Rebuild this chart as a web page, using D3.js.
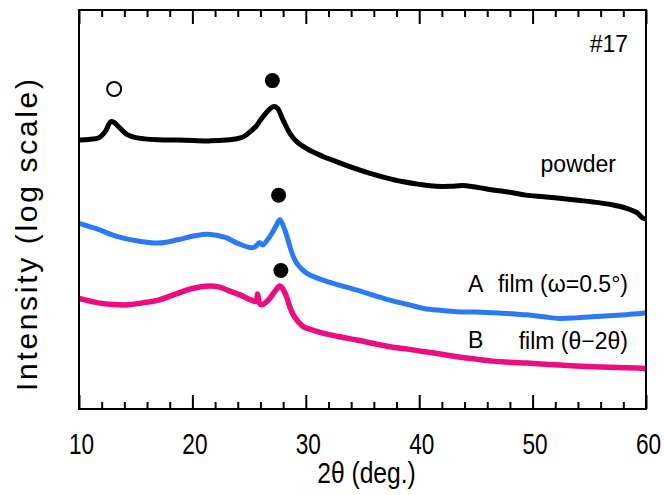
<!DOCTYPE html>
<html>
<head>
<meta charset="utf-8">
<script src="https://cdn.jsdelivr.net/npm/d3@7"></script>
<style>
body { margin: 0; background: #fff; }
</style>
</head>
<body>
<div id="chart"></div>
<script>
// 2theta (deg.) and log intensity (arbitrary, offset)
var powderAngle = [10.0, 11.0, 11.7, 12.3, 12.8, 13.1, 13.4, 13.9, 14.3, 15.0, 15.8, 17.0, 18.7, 20.0, 21.6, 23.0, 24.0, 24.6, 25.1, 25.6, 26.0, 26.5, 26.9, 27.2, 27.5, 28.0, 28.6, 29.2, 30.3, 31.5, 32.7, 34.0, 35.6, 37.0, 38.5, 40.0, 41.5, 42.8, 43.8, 44.8, 46.5, 48.0, 49.4, 51.0, 52.4, 54.0, 55.3, 57.0, 58.3, 59.2, 59.7, 60.0];
var powderLogI = [67.4, 67.6, 67.9, 69.5, 72.0, 71.8, 71.0, 69.6, 68.7, 68.0, 67.7, 67.5, 67.4, 67.3, 67.2, 67.4, 67.8, 68.4, 69.5, 70.8, 72.4, 74.2, 75.4, 75.8, 75.4, 72.4, 69.1, 67.0, 64.9, 63.3, 62.0, 60.6, 59.1, 58.0, 57.0, 56.3, 55.8, 55.8, 56.0, 55.7, 54.9, 54.3, 53.6, 53.2, 52.8, 52.3, 51.9, 51.2, 50.3, 49.2, 47.9, 47.6];

var filmAAngle = [10.0, 11.7, 13.4, 15.2, 17.0, 18.7, 20.2, 21.4, 22.9, 24.0, 25.2, 25.6, 25.9, 26.2, 26.6, 27.0, 27.4, 27.7, 28.0, 28.3, 28.6, 28.9, 29.2, 29.6, 30.1, 31.5, 33.0, 34.5, 36.0, 37.4, 39.0, 40.4, 42.0, 43.3, 45.0, 46.5, 48.0, 49.5, 51.0, 52.4, 54.0, 55.3, 57.5, 59.7, 60.0];
var filmALogI = [46.5, 45.0, 43.2, 42.1, 41.6, 42.4, 43.4, 43.8, 43.0, 41.5, 40.4, 40.8, 41.7, 41.1, 42.3, 44.0, 46.0, 47.4, 46.0, 43.6, 40.7, 38.2, 36.5, 35.2, 34.0, 32.3, 31.0, 29.8, 28.5, 27.3, 26.2, 25.2, 24.7, 24.4, 24.3, 24.1, 23.9, 23.6, 23.1, 22.7, 22.9, 23.1, 23.5, 24.0, 24.1];

var filmBAngle = [10.0, 11.7, 13.0, 14.3, 15.6, 17.0, 18.7, 20.0, 21.4, 22.3, 23.1, 24.2, 25.2, 25.6, 25.75, 25.9, 26.1, 26.7, 27.2, 27.7, 28.0, 28.3, 28.6, 28.9, 29.3, 29.8, 30.6, 31.5, 33.0, 34.5, 36.0, 37.4, 39.0, 40.4, 42.0, 43.3, 45.0, 46.5, 48.0, 49.5, 52.4, 55.3, 57.5, 59.7, 60.0];
var filmBLogI = [27.7, 26.6, 26.2, 26.1, 26.6, 27.3, 29.0, 30.2, 30.8, 30.6, 29.8, 28.6, 27.3, 27.0, 28.8, 26.6, 26.1, 27.3, 29.2, 30.8, 30.0, 28.1, 25.5, 23.6, 22.0, 20.6, 19.8, 19.0, 18.1, 17.3, 16.4, 15.6, 15.0, 14.4, 13.7, 13.1, 12.5, 12.0, 11.7, 11.5, 11.0, 10.6, 10.4, 10.2, 10.0];

// peak markers: open = other phase, filled = main reflection
var openAngle = [13.1];
var openLevel = [80.2];
var filledAngle = [27.05, 27.6, 27.8];
var filledLevel = [82.3, 53.6, 34.7];

var xTicks = [10, 20, 30, 40, 50, 60];
var xMinor = [12, 14, 16, 18, 22, 24, 26, 28, 32, 34, 36, 38, 42, 44, 46, 48, 52, 54, 56, 58];

var svgWidth = 664;
var svgHeight = 495;
var margin = { top: 10, right: 18, bottom: 86, left: 79 };
var width = svgWidth - margin.left - margin.right;
var height = svgHeight - margin.top - margin.bottom;

var svg = d3.select("#chart")
    .append("svg")
    .attr("width", svgWidth)
    .attr("height", svgHeight);

var chartGroup = svg.append("g")
    .attr("transform", `translate(${margin.left}, ${margin.top})`);

var xScale = d3.scaleLinear().domain([10, 60]).range([0, width]);
var yScale = d3.scaleLinear().domain([0, 100]).range([height, 0]);

chartGroup.append("clipPath").attr("id", "plotClip")
    .append("rect").attr("width", width).attr("height", height);

var line = d3.line()
    .x(d => xScale(d[0]))
    .y(d => yScale(d[1]))
    .curve(d3.curveCatmullRom.alpha(0.5));

var series = [
    { a: powderAngle, v: powderLogI, color: "#000000", w: 5 },
    { a: filmAAngle, v: filmALogI, color: "#2a7af6", w: 5 },
    { a: filmBAngle, v: filmBLogI, color: "#ec0d80", w: 5.5 }
];

var curves = chartGroup.append("g").attr("clip-path", "url(#plotClip)");
series.forEach(s => {
    curves.append("path")
        .datum(s.a.map((a, i) => [a, s.v[i]]))
        .attr("fill", "none")
        .attr("stroke", s.color)
        .attr("stroke-width", s.w)
        .attr("stroke-linejoin", "round")
        .attr("d", line);
});

// Markers
chartGroup.selectAll(".openMark")
    .data(openAngle)
    .enter()
    .append("circle")
    .attr("cx", d => xScale(d))
    .attr("cy", (d, i) => yScale(openLevel[i]))
    .attr("r", 7)
    .attr("fill", "white")
    .attr("stroke", "black")
    .attr("stroke-width", 2);

chartGroup.selectAll(".filledMark")
    .data(filledAngle)
    .enter()
    .append("circle")
    .attr("cx", d => xScale(d))
    .attr("cy", (d, i) => yScale(filledLevel[i]))
    .attr("r", 7.5)
    .attr("fill", "black");

// Axes: ticks point inward, top and bottom
var bottomAxis = d3.axisBottom(xScale).tickValues(xTicks).tickSizeInner(-14).tickSizeOuter(0).tickPadding(0);
var bottomMinor = d3.axisBottom(xScale).tickValues(xMinor).tickSizeInner(-7).tickSizeOuter(0).tickFormat("");
var topAxis = d3.axisTop(xScale).tickValues(xTicks).tickSizeInner(-14).tickSizeOuter(0).tickFormat("");
var topMinor = d3.axisTop(xScale).tickValues(xMinor).tickSizeInner(-7).tickSizeOuter(0).tickFormat("");

[bottomAxis, bottomMinor].forEach(ax => {
    chartGroup.append("g")
        .attr("transform", `translate(0, ${height})`)
        .call(ax);
});
[topAxis, topMinor].forEach(ax => {
    chartGroup.append("g").call(ax);
});

chartGroup.selectAll(".domain").remove();
chartGroup.selectAll(".tick line").attr("stroke", "black").attr("stroke-width", 2);
// narrow gothic-like digits
chartGroup.selectAll(".tick text")
    .attr("y", null)
    .attr("dy", null)
    .attr("transform", "translate(2, 45) scale(0.78, 1)")
    .attr("font-family", "'Liberation Sans', Arial, sans-serif")
    .attr("font-size", 29)
    .attr("fill", "black");

chartGroup.append("rect")
    .attr("width", width)
    .attr("height", height)
    .attr("fill", "none")
    .attr("stroke", "black")
    .attr("stroke-width", 2);

// Labels
chartGroup.append("text")
    .attr("transform", `translate(${width / 2 + 4}, 473) scale(0.85, 1)`)
    .attr("text-anchor", "middle")
    .style("font-family", "'Liberation Sans', Arial, sans-serif")
    .style("font-size", "29px")
    .text("2θ (deg.)");

svg.append("text")
    .attr("transform", "translate(37, 235) rotate(-90)")
    .attr("text-anchor", "middle")
    .attr("textLength", 312)
    .attr("lengthAdjust", "spacing")
    .style("font-family", "'Liberation Sans', Arial, sans-serif")
    .style("font-size", "30px")
    .text("Intensity (log scale)");

var labelFont = "'Liberation Sans', Arial, sans-serif";
var notes = [
    { x: 628, y: 52, t: "#17", anchor: "end" },
    { x: 616, y: 172, t: "powder", anchor: "end" },
    { x: 468, y: 292, t: "A", anchor: "start" },
    { x: 628, y: 292, t: "film (ω=0.5°)", anchor: "end" },
    { x: 468, y: 348, t: "B", anchor: "start" },
    { x: 628, y: 349, t: "film (θ−2θ)", anchor: "end" }
];
svg.selectAll(".note")
    .data(notes)
    .enter()
    .append("text")
    .attr("x", d => d.x)
    .attr("y", d => d.y)
    .attr("text-anchor", d => d.anchor)
    .style("font-family", labelFont)
    .style("font-size", "23px")
    .text(d => d.t);
</script>
</body>
</html>
